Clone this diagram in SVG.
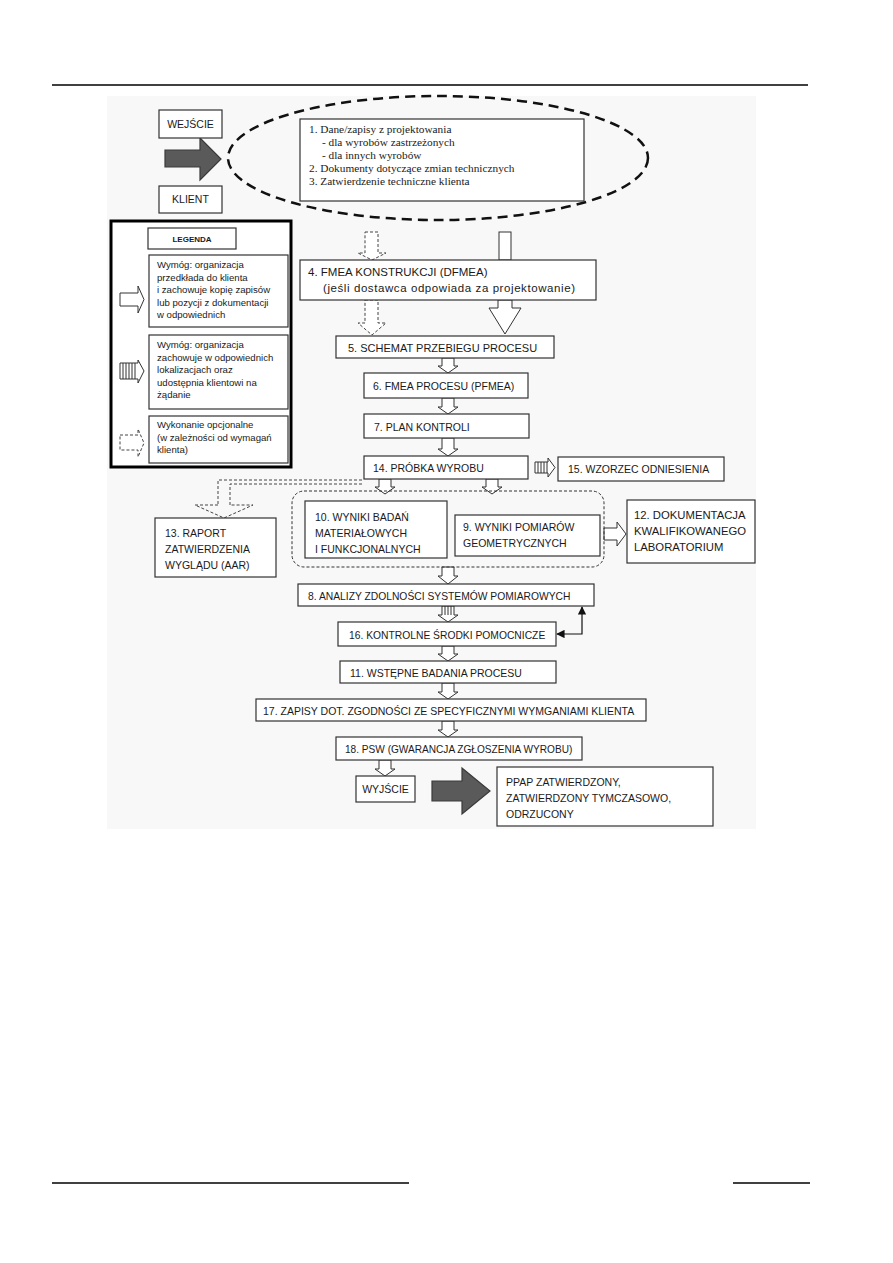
<svg xmlns="http://www.w3.org/2000/svg" width="893" height="1263" viewBox="0 0 893 1263">
<style>
.box{fill:#fff;stroke:#333;stroke-width:1.2}
.t{font-family:"Liberation Sans",Arial,sans-serif;font-size:10.5px;fill:#1a1a1a}
.tl{font-family:"Liberation Sans",Arial,sans-serif;font-size:9.6px;fill:#1a1a1a}
.ts{font-family:"Liberation Serif","Times New Roman",serif;font-size:11.3px;fill:#1a1a1a}
.ha{fill:#fff;stroke:#333;stroke-width:1}
.da{fill:#fff;stroke:#444;stroke-width:1;stroke-dasharray:3,2}
.dl{fill:none;stroke:#444;stroke-width:1;stroke-dasharray:3,2}
.ga{fill:#5a5a5a;stroke:#3a3a3a;stroke-width:1.2}
.st{stroke:#333;stroke-width:1}
.ln{fill:none;stroke:#111;stroke-width:1.2}
</style>
<defs>
<marker id="ah" viewBox="0 0 10 10" refX="9" refY="5" markerWidth="7" markerHeight="7" orient="auto-start-reverse"><path d="M0,0 L10,5 L0,10 Z" fill="#111"/></marker>
</defs>
<rect width="893" height="1263" fill="#fff"/>
<line x1="52" y1="85" x2="808" y2="85" stroke="#000" stroke-width="1.5"/>
<line x1="52" y1="1183" x2="409" y2="1183" stroke="#000" stroke-width="1.5"/>
<line x1="733" y1="1183" x2="810" y2="1183" stroke="#000" stroke-width="1.5"/>
<rect x="107" y="96" width="649" height="733" fill="#f8f8f8"/>

<g id="connectors">
<path class="da" d="M365,232 H378 V253 H386 L372,260 L358,253 H365 Z"/>
<rect class="ha" x="499" y="232" width="12" height="28"/>
<path class="da" d="M365,300 H378 V323 H386 L372,335 L358,323 H365 Z"/>
<path class="ha" d="M498,300 H512 V308 H521 L505,334 L489,308 H498 Z"/>
<path class="ha" d="M442,358 H454 V366 H458 L448,373 L438,366 H442 Z"/>
<path class="ha" d="M442,398 H454 V407 H458 L448,414 L438,407 H442 Z"/>
<path class="ha" d="M442,438 H454 V449 H458 L448,456 L438,449 H442 Z"/>
<path class="ha" d="M535,462 H548 V458 L555,467.5 L548,477 V473 H535 Z"/>
<g class="st"><line x1="538" y1="462" x2="538" y2="473"/><line x1="541" y1="462" x2="541" y2="473"/><line x1="544" y1="462" x2="544" y2="473"/><line x1="547" y1="462" x2="547" y2="473"/></g>
<path class="ha" d="M379,479 H391 V487 H395 L385,494 L375,487 H379 Z"/>
<path class="ha" d="M486,479 H498 V487 H502 L492,494 L482,487 H486 Z"/>
<polyline class="dl" points="362,480 218,480 218,505"/>
<polyline class="dl" points="362,484 230,484 230,505"/>
<path class="dl" d="M218,505 H195 L224,518 L253,505 H230"/>
<path class="ha" d="M604,528 H617 V522 L626,534 L617,546 V540 H604 Z"/>
<path class="ha" d="M442,567 H454 V576 H458 L448,584 L438,576 H442 Z"/>
<path class="ha" d="M442,606 H454 V615 H458 L448,622 L438,615 H442 Z"/>
<g class="st"><line x1="445" y1="606" x2="445" y2="615"/><line x1="448" y1="606" x2="448" y2="615"/><line x1="451" y1="606" x2="451" y2="615"/></g>
<polyline class="ln" points="557,634 582,634 582,607" marker-start="url(#ah)" marker-end="url(#ah)"/>
<path class="ha" d="M442,646 H454 V654 H458 L448,661 L438,654 H442 Z"/>
<path class="ha" d="M442,683 H454 V692 H458 L448,699 L438,692 H442 Z"/>
<path class="ha" d="M442,721 H454 V730 H458 L448,737 L438,730 H442 Z"/>
<path class="ha" d="M379,760 H391 V769 H395 L385,776 L375,769 H379 Z"/>
<path class="ga" d="M165,150 H200 V138 L221,159 L200,180 V167 H165 Z"/>
<path class="ga" d="M432,781 H462 V768 L490,791 L462,814 V801 H432 Z"/>
</g>

<g id="input">
<rect class="box" x="159" y="110" width="63" height="28"/>
<text class="t" x="190.5" y="128" text-anchor="middle">WEJŚCIE</text>
<rect class="box" x="159" y="186" width="63" height="27"/>
<text class="t" x="190.5" y="203" text-anchor="middle">KLIENT</text>
</g>

<g id="design-data">
<ellipse cx="438" cy="158" rx="210" ry="62" fill="none" stroke="#111" stroke-width="2.5" stroke-dasharray="10,6"/>
<rect class="box" x="300" y="119" width="284" height="82"/>
<text class="ts" x="309" y="133">1. Dane/zapisy z projektowania</text>
<text class="ts" x="322" y="146">- dla wyrobów zastrzeżonych</text>
<text class="ts" x="322" y="159">- dla innych wyrobów</text>
<text class="ts" x="309" y="172">2. Dokumenty dotyczące zmian technicznych</text>
<text class="ts" x="309" y="185">3. Zatwierdzenie techniczne klienta</text>
</g>

<g id="legend">
<rect x="111" y="221" width="180" height="246" fill="#fff" stroke="#000" stroke-width="3"/>
<rect class="box" x="148" y="228" width="88" height="21"/>
<text x="192" y="242" text-anchor="middle" style="font-family:'Liberation Sans',Arial,sans-serif;font-size:8px;font-weight:bold;fill:#1a1a1a">LEGENDA</text>
<rect class="box" x="149" y="255" width="139" height="72"/>
<text class="tl" x="157" y="268">Wymóg: organizacja</text>
<text class="tl" x="157" y="280.5">przedkłada do klienta</text>
<text class="tl" x="157" y="293">i zachowuje kopię zapisów</text>
<text class="tl" x="157" y="305.5">lub pozycji z dokumentacji</text>
<text class="tl" x="157" y="318">w odpowiednich</text>
<path class="ha" d="M120,293 H138 V286 L144,299.5 L138,313 V306 H120 Z"/>
<rect class="box" x="149" y="335" width="139" height="74"/>
<text class="tl" x="157" y="348">Wymóg: organizacja</text>
<text class="tl" x="157" y="360.5">zachowuje w odpowiednich</text>
<text class="tl" x="157" y="373">lokalizacjach oraz</text>
<text class="tl" x="157" y="385.5">udostępnia klientowi na</text>
<text class="tl" x="157" y="398">żądanie</text>
<path class="ha" d="M120,363 H138 V360 L144,371 L138,383 V379 H120 Z"/>
<g class="st"><line x1="123" y1="363" x2="123" y2="379"/><line x1="126" y1="363" x2="126" y2="379"/><line x1="129" y1="363" x2="129" y2="379"/><line x1="132" y1="363" x2="132" y2="379"/><line x1="135" y1="363" x2="135" y2="379"/></g>
<rect class="box" x="149" y="416" width="139" height="47"/>
<text class="tl" x="157" y="428">Wykonanie opcjonalne</text>
<text class="tl" x="157" y="440.5">(w zależności od wymagań</text>
<text class="tl" x="157" y="453">klienta)</text>
<path class="da" d="M120,435 H138 V429 L144,443 L138,457 V450 H120 Z"/>
</g>

<g id="n4"><rect class="box" x="300" y="260" width="296" height="40"/>
<text class="t" x="308" y="276" style="font-size:11.5px">4. FMEA KONSTRUKCJI (DFMEA)</text>
<text class="t" x="323" y="292" style="font-size:11.5px" textLength="252" lengthAdjust="spacing">(jeśli dostawca odpowiada za projektowanie)</text></g>
<g id="n5"><rect class="box" x="336" y="336" width="218" height="22"/>
<text class="t" x="348" y="352" style="font-size:11px">5. SCHEMAT PRZEBIEGU PROCESU</text></g>
<g id="n6"><rect class="box" x="364" y="373" width="164" height="25"/>
<text class="t" x="373" y="390">6. FMEA PROCESU (PFMEA)</text></g>
<g id="n7"><rect class="box" x="364" y="414" width="165" height="24"/>
<text class="t" x="374" y="431">7. PLAN KONTROLI</text></g>
<g id="n14"><rect class="box" x="364" y="456" width="164" height="23"/>
<text class="t" x="373" y="472">14. PRÓBKA WYROBU</text></g>
<g id="n15"><rect class="box" x="558" y="457" width="166" height="24"/>
<text class="t" x="568" y="473">15. WZORZEC ODNIESIENIA</text></g>
<g id="group-9-10"><rect x="292" y="491" width="312" height="76" rx="12" fill="none" stroke="#333" stroke-width="1" stroke-dasharray="3,2"/></g>
<g id="n10"><rect class="box" x="305" y="501" width="142" height="57"/>
<text class="t" x="315" y="521">10. WYNIKI BADAŃ</text>
<text class="t" x="315" y="537">MATERIAŁOWYCH</text>
<text class="t" x="315" y="553">I FUNKCJONALNYCH</text></g>
<g id="n9"><rect class="box" x="455" y="515" width="145" height="41"/>
<text class="t" x="463" y="531">9. WYNIKI POMIARÓW</text>
<text class="t" x="463" y="547">GEOMETRYCZNYCH</text></g>
<g id="n12"><rect class="box" x="627" y="500" width="128" height="63"/>
<text class="t" x="634" y="519" style="font-size:11.3px">12. DOKUMENTACJA</text>
<text class="t" x="634" y="535" style="font-size:11.3px">KWALIFIKOWANEGO</text>
<text class="t" x="634" y="551" style="font-size:11.3px">LABORATORIUM</text></g>
<g id="n13"><rect class="box" x="155" y="518" width="121" height="59"/>
<text class="t" x="165" y="537">13. RAPORT</text>
<text class="t" x="165" y="553">ZATWIERDZENIA</text>
<text class="t" x="165" y="569">WYGLĄDU (AAR)</text></g>
<g id="n8"><rect class="box" x="298" y="584" width="296" height="22"/>
<text class="t" x="308" y="600" style="font-size:10.3px">8. ANALIZY ZDOLNOŚCI SYSTEMÓW POMIAROWYCH</text></g>
<g id="n16"><rect class="box" x="338" y="622" width="218" height="24"/>
<text class="t" x="349" y="639" style="font-size:10.3px">16. KONTROLNE ŚRODKI POMOCNICZE</text></g>
<g id="n11"><rect class="box" x="340" y="661" width="216" height="22"/>
<text class="t" x="350" y="677">11. WSTĘPNE BADANIA PROCESU</text></g>
<g id="n17"><rect class="box" x="256" y="699" width="390" height="22"/>
<text class="t" x="263" y="715">17. ZAPISY DOT. ZGODNOŚCI ZE SPECYFICZNYMI WYMGANIAMI KLIENTA</text></g>
<g id="n18"><rect class="box" x="336" y="737" width="246" height="23"/>
<text class="t" x="345" y="753" style="font-size:10.1px">18. PSW (GWARANCJA ZGŁOSZENIA WYROBU)</text></g>
<g id="output"><rect class="box" x="356" y="776" width="59" height="26"/>
<text class="t" x="385.5" y="793" text-anchor="middle">WYJŚCIE</text></g>
<g id="result"><rect class="box" x="497" y="767" width="216" height="59"/>
<text class="t" x="506" y="786">PPAP ZATWIERDZONY,</text>
<text class="t" x="506" y="802">ZATWIERDZONY TYMCZASOWO,</text>
<text class="t" x="506" y="818">ODRZUCONY</text></g>
</svg>
